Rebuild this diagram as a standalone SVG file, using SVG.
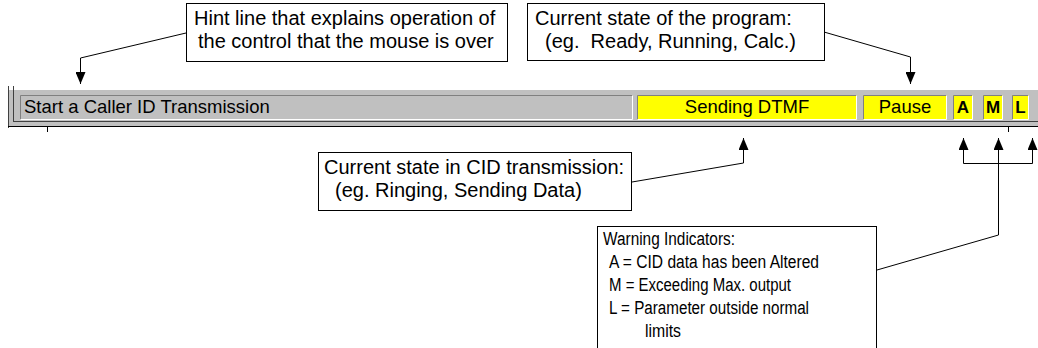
<svg xmlns="http://www.w3.org/2000/svg" width="1038" height="348" viewBox="0 0 1038 348">
  <style>
    .note { fill: #fff; stroke: #000; stroke-width: 1; }
    .nt { font-family: "Liberation Sans", Arial, sans-serif; font-size: 20px; fill: #000; white-space: pre; }
    .nw { font-family: "Liberation Sans", Arial, sans-serif; font-size: 18px; fill: #000; white-space: pre; }
    .sb { font-family: "Liberation Sans", Arial, sans-serif; font-size: 18.5px; fill: #000; }
    .sbb { font-family: "Liberation Sans", Arial, sans-serif; font-size: 17px; font-weight: bold; fill: #000; }
    .wire { fill: none; stroke: #000; stroke-width: 1; }
    .arr { fill: none; stroke: #000; stroke-width: 1; marker-end: url(#tip); }
    .dk { stroke: #808080; stroke-width: 1; }
    .lt { stroke: #fff; stroke-width: 1; }
  </style>
  <defs>
    <marker id="tip" viewBox="0 0 12 10" refX="12" refY="5" markerWidth="12" markerHeight="10" markerUnits="userSpaceOnUse" orient="auto">
      <path d="M0,0 L12,5 L0,10 z" fill="#000"/>
    </marker>
  </defs>

  <rect width="1038" height="348" fill="#fff"/>

  <!-- status bar -->
  <g id="statusbar">
    <rect x="8" y="90" width="1030" height="36" fill="#c0c0c0"/>
    <line x1="8.5" y1="86" x2="8.5" y2="128" stroke="#404040"/>
    <line x1="13.5" y1="86" x2="13.5" y2="122" stroke="#404040"/>
    <line x1="13" y1="121.5" x2="1038" y2="121.5" stroke="#404040"/>
    <line x1="8" y1="126.5" x2="1038" y2="126.5" stroke="#000"/>
    <line x1="47.5" y1="126" x2="47.5" y2="132" stroke="#000"/>
    <line x1="1008.5" y1="126" x2="1008.5" y2="132" stroke="#000"/>

    <!-- hint panel -->
    <g id="panel-hint">
      <rect x="20" y="95" width="613" height="25" fill="#c0c0c0"/>
      <path d="M20.5,119.5 V95.5 H632.5" class="dk" fill="none"/>
      <path d="M20.5,119.5 H632.5 V95.5" class="lt" fill="none"/>
      <text class="sb" x="24" y="113">Start a Caller ID Transmission</text>
    </g>
    <!-- CID state panel -->
    <g id="panel-cid">
      <rect x="637" y="95" width="220" height="25" fill="#ffff00"/>
      <path d="M637.5,119.5 V95.5 H856.5" class="dk" fill="none"/>
      <path d="M637.5,119.5 H856.5 V95.5" class="lt" fill="none"/>
      <text class="sb" x="747" y="113" text-anchor="middle">Sending DTMF</text>
    </g>
    <!-- program state panel -->
    <g id="panel-state">
      <rect x="863" y="95" width="84" height="25" fill="#ffff00"/>
      <path d="M863.5,119.5 V95.5 H946.5" class="dk" fill="none"/>
      <path d="M863.5,119.5 H946.5 V95.5" class="lt" fill="none"/>
      <text class="sb" x="905" y="113" text-anchor="middle">Pause</text>
    </g>
    <!-- warning indicators -->
    <g id="panel-a">
      <rect x="953" y="95" width="20" height="25" fill="#ffff00"/>
      <path d="M953.5,119.5 V95.5 H972.5" class="dk" fill="none"/>
      <path d="M953.5,119.5 H972.5 V95.5" class="lt" fill="none"/>
      <text class="sbb" x="963" y="113" text-anchor="middle">A</text>
    </g>
    <g id="panel-m">
      <rect x="983" y="95" width="20" height="25" fill="#ffff00"/>
      <path d="M983.5,119.5 V95.5 H1002.5" class="dk" fill="none"/>
      <path d="M983.5,119.5 H1002.5 V95.5" class="lt" fill="none"/>
      <text class="sbb" x="993" y="113" text-anchor="middle">M</text>
    </g>
    <g id="panel-l">
      <rect x="1012" y="95" width="17" height="25" fill="#ffff00"/>
      <path d="M1012.5,119.5 V95.5 H1028.5" class="dk" fill="none"/>
      <path d="M1012.5,119.5 H1028.5 V95.5" class="lt" fill="none"/>
      <text class="sbb" x="1020.5" y="113" text-anchor="middle">L</text>
    </g>
  </g>

  <!-- callout notes -->
  <g id="note-hint">
    <rect class="note" x="186.5" y="3.5" width="321" height="58"/>
    <text class="nt" x="194" y="25">Hint line that explains operation of</text>
    <text class="nt" x="198" y="48">the control that the mouse is over</text>
  </g>
  <g id="note-program">
    <rect class="note" x="527.5" y="3.5" width="297" height="57"/>
    <text class="nt" x="535" y="25">Current state of the program:</text>
    <text class="nt" x="545" y="48">(eg.  Ready, Running, Calc.)</text>
  </g>
  <g id="note-cid">
    <rect class="note" x="318.5" y="152.5" width="313" height="58"/>
    <text class="nt" x="324" y="174">Current state in CID transmission:</text>
    <text class="nt" x="335" y="197">(eg. Ringing, Sending Data)</text>
  </g>
  <!-- this note uses a slightly condensed setting of the same face -->
  <g id="note-warning">
    <rect class="note" x="597.5" y="226.5" width="279" height="130"/>
    <text class="nw" x="603" y="245" textLength="132" lengthAdjust="spacingAndGlyphs">Warning Indicators:</text>
    <text class="nw" x="609" y="268" textLength="210" lengthAdjust="spacingAndGlyphs">A = CID data has been Altered</text>
    <text class="nw" x="609" y="291" textLength="182" lengthAdjust="spacingAndGlyphs">M = Exceeding Max. output</text>
    <text class="nw" x="609" y="314" textLength="200" lengthAdjust="spacingAndGlyphs">L = Parameter outside normal</text>
    <text class="nw" x="645" y="337" textLength="36" lengthAdjust="spacingAndGlyphs">limits</text>
  </g>

  <!-- connectors -->
  <g id="connectors">
    <polyline class="arr" points="186,33 80.5,58 80.5,84"/>
    <polyline class="arr" points="824,32 910.5,57 910.5,84"/>
    <polyline class="arr" points="632,182 743.5,163 743.5,138"/>
    <polyline class="wire" points="877,270 998.5,235 998.5,140"/>
    <polyline class="arr" points="998.5,163.5 963.5,163.5 963.5,138"/>
    <polyline class="arr" points="998.5,163.5 1032.5,163.5 1032.5,138"/>
    <polyline class="arr" points="998.5,165 998.5,138"/>
  </g>
</svg>
